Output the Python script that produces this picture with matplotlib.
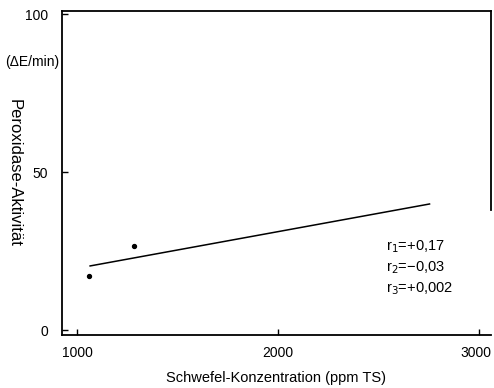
import matplotlib.pyplot as plt
from matplotlib.transforms import ScaledTranslation

# measured points (sulphur concentration, peroxidase activity)
schwefel = [1060, 1285]
aktivitaet = [17, 26.5]

# regression line end points
line_x = [1065, 2755]
line_y = [20.3, 39.9]

r_labels = ["r$_1$=+0,17", "r$_2$=\u22120,03", "r$_3$=+0,002"]

xticks = [1000, 2000, 3000]
yticks = [0, 50, 100]

plt.rcParams["font.family"] = ["Liberation Sans", "DejaVu Sans"]

fig = plt.figure(figsize=(4.94, 3.88), dpi=100)
ax = fig.add_axes([0.1255, 0.137, 0.868, 0.835])

ax.plot(line_x, line_y, color="black", lw=1.1)
ax.scatter(schwefel, aktivitaet, s=8, color="black", zorder=3)

ax.set_xlim(925, 3060)
ax.set_ylim(-1.5, 101)
ax.set_xticks(xticks)
ax.set_yticks(yticks)
ax.tick_params(direction="in", length=4, width=1, labelsize=10, pad=8)
ax.tick_params(axis="y", pad=10)

# keep the last x label inside the figure, as in the original
last = ax.get_xticklabels()[-1]
last.set_horizontalalignment("right")
last.set_transform(last.get_transform() + ScaledTranslation(0.13, 0, fig.dpi_scale_trans))

for side in ["left", "bottom", "top", "right"]:
    ax.spines[side].set_linewidth(1.3)
ax.spines["right"].set_bounds(38, 101)

ax.set_xlabel("Schwefel-Konzentration (ppm TS)", fontsize=10.5, labelpad=8)

fig.text(0.01, 0.84, "(\u0394E/min)", fontsize=10, ha="left", va="center")
fig.text(0.028, 0.555, "Peroxidase-Aktivit\u00e4t", fontsize=12, rotation=-90,
         ha="center", va="center")

for i, lab in enumerate(r_labels):
    ax.text(0.755, 0.272 - i * 0.065, lab, transform=ax.transAxes,
            fontsize=10.5, ha="left", va="center")

fig.savefig("out.png", dpi=100)
